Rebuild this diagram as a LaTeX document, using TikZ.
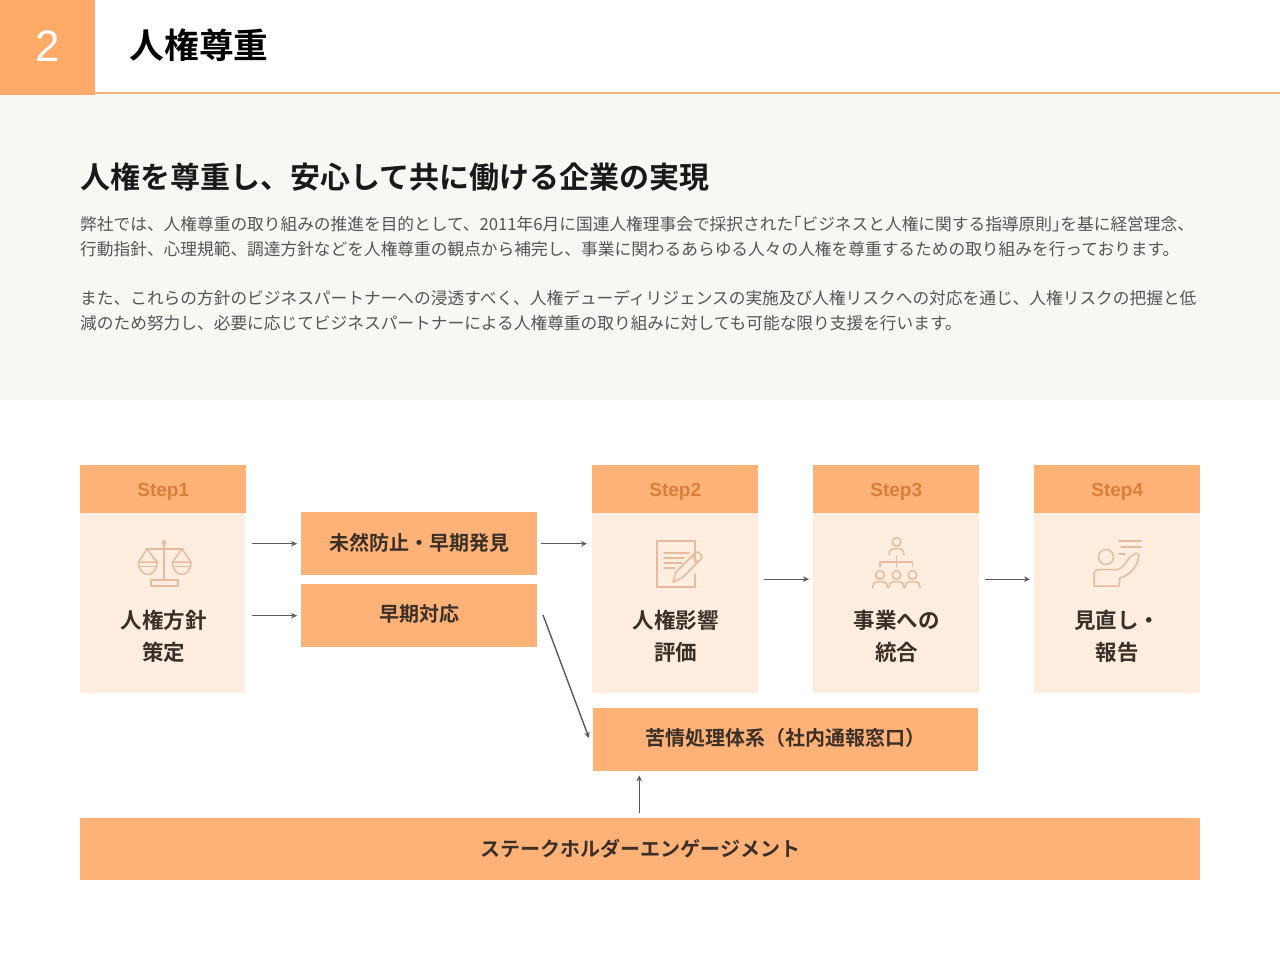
\documentclass[tikz,border=0pt]{standalone}
\usepackage{fontspec}
\setmainfont{Noto Sans CJK JP}[BoldFont={Noto Sans CJK JP Bold}]
\newfontfamily\latinf{Liberation Sans}
\usetikzlibrary{arrows.meta}
\definecolor{hdr}{HTML}{FFB277}
\definecolor{topo}{HTML}{FFAA66}
\definecolor{pale}{HTML}{FFEEDF}
\definecolor{panel}{HTML}{F9F7F4}
\definecolor{ink}{HTML}{3A3028}
\definecolor{bodyt}{HTML}{555555}
\definecolor{stept}{HTML}{D97F3C}
\definecolor{icon}{HTML}{E6BC9C}
\definecolor{arr}{HTML}{5A5A60}
\newcommand{\shiftup}[2]{\raisebox{#1}[\height][\depth]{#2}}
\tikzset{
 fillbox/.style={fill=hdr,draw=none,inner sep=0pt,text=ink,font=\fontsize{20}{24}\selectfont\bfseries,anchor=north west},
 card/.style={draw=none,inner sep=0pt,anchor=north west,minimum width=166pt,minimum height=228pt},
 stephead/.style={fill=hdr,inner sep=0pt,anchor=north west,minimum width=166pt,minimum height=48pt,text=stept,font=\latinf\fontsize{19}{24}\selectfont\bfseries},
 stepbody/.style={fill=pale,inner sep=0pt,anchor=north west,minimum height=180pt},
 steplabel/.style={text=ink,align=center,inner sep=0pt,font=\fontsize{21.5}{32}\selectfont\bfseries},
 bodyline/.style={anchor=base west,inner sep=0pt,text=bodyt,font=\fontsize{16.7}{20}\selectfont},
 flow/.style={draw=arr,line width=1.4pt,-{Stealth[length=6pt,width=5.5pt]}},
 ic/.style={draw=icon,line width=1.5pt,fill=none,line join=round,line cap=round},
}
\begin{document}
\begin{tikzpicture}[x=1pt,y=-1pt]
\useasboundingbox (0,0) rectangle (1280,960);
\fill[white] (0,0) rectangle (1280,960);
% header
\fill[panel] (0,95) rectangle (1280,400);
\draw[draw=hdr,line width=2pt] (95,93) -- (1280,93);
\node[fill=topo,inner sep=0pt,anchor=north west,minimum width=95pt,minimum height=95pt,text=white,font=\latinf\fontsize{44}{48}\selectfont] (num) at (0,0) {\shiftup{1.5pt}{2}};
\node[anchor=west,inner sep=0pt,text=black,font=\fontsize{34.7}{40}\selectfont\bfseries] (ttl) at (129.5,45) {人権尊重};
\node[anchor=west,inner sep=0pt,text=black!90,font=\fontsize{30}{36}\selectfont\bfseries] (sub) at (80,177) {人権を尊重し、安心して共に働ける企業の実現};
\node[bodyline] (l1) at (80,230.5) {弊社では、人権尊重の取り組みの推進を目的として、2011年6月に国連人権理事会で採択された｢ビジネスと人権に関する指導原則｣を基に経営理念、};
\node[bodyline] (l2) at (80,255.5) {行動指針、心理規範、調達方針などを人権尊重の観点から補完し、事業に関わるあらゆる人々の人権を尊重するための取り組みを行っております。};
\node[bodyline] (l3) at (80,305) {また、これらの方針のビジネスパートナーへの浸透すべく、人権デューディリジェンスの実施及び人権リスクへの対応を通じ、人権リスクの把握と低};
\node[bodyline] (l4) at (80,329.5) {減のため努力し、必要に応じてビジネスパートナーによる人権尊重の取り組みに対しても可能な限り支援を行います。};
% cards
\foreach \n/\x/\s/\w in {1/80/Step1/165,2/592/Step2/166,3/813/Step3/166,4/1034/Step4/166}{
  \node[stepbody,minimum width=\w pt] (body\n) at (\x,513) {};
  \node[stephead] (head\n) at (\x,465) {\shiftup{-3pt}{\s}};
  \node[card] (card\n) at (\x,465) {};
}
\node[steplabel] (lab1) at (163.5,636) {人権方針\\策定};
\node[steplabel] (lab2) at (675.5,636) {人権影響\\評価};
\node[steplabel] (lab3) at (896.5,636) {事業への\\統合};
\node[steplabel] (lab4) at (1117,636) {見直し・\\報告};
% middle boxes
\node[fillbox,minimum width=236pt,minimum height=63pt] (mid1) at (301,512) {\shiftup{1pt}{未然防止・早期発見}};
\node[fillbox,minimum width=236pt,minimum height=63pt] (mid2) at (301,584) {\shiftup{1.5pt}{早期対応}};
\node[fillbox,minimum width=385pt,minimum height=63pt] (comp) at (593,708) {\shiftup{1.5pt}{苦情処理体系（社内通報窓口）}};
\node[fillbox,minimum width=1120pt,minimum height=62pt] (stake) at (80,818) {ステークホルダーエンゲージメント};
% connectors
\coordinate (m2s) at (543,615);
\coordinate (m2e) at (589,738);
\draw[flow,shorten <=6pt,shorten >=4pt] (card1.east |- mid1.west) -- (mid1.west);
\draw[flow,shorten <=6pt,shorten >=4pt] (card1.east |- mid2.west) -- (mid2.west);
\draw[flow,shorten <=4pt,shorten >=5pt] (mid1.east) -- (mid1.east -| card2.west);
\draw[flow,shorten <=6pt,shorten >=4pt] (card2.east) -- (card3.west);
\draw[flow,shorten <=6pt,shorten >=4pt] (card3.east) -- (card4.west);
\draw[flow] (m2s) -- (m2e);
\draw[flow,shorten <=5pt,shorten >=4pt] ([xshift=-1pt]stake.north) -- ([xshift=-1pt]stake.north |- comp.south);
% icons
\begin{scope}[ic]
% scales
\draw (164,544.5) -- (164,580);
\draw[fill=icon,draw=none] (164,542.5) circle (2.4);
\draw (146,549) -- (183,549);
\draw (147,549) -- (138.5,562) -- (157,562) -- cycle;
\draw (138.5,562) .. controls (138.5,570) and (143,574.5) .. (147.75,574.5) .. controls (152.5,574.5) and (157,570) .. (157,562);
\draw (139.5,566.5) -- (156,566.5);
\draw (182,549) -- (172.5,562) -- (191,562) -- cycle;
\draw (172.5,562) .. controls (172.5,570) and (177,574.5) .. (181.75,574.5) .. controls (186.5,574.5) and (191,570) .. (191,562);
\draw (173.5,566.5) -- (190,566.5);
\draw (151,580) rectangle (178,586);
% document and pencil
\draw (695,562) -- (695,541) -- (657,541) -- (657,587) -- (695,587) -- (695,574);
\draw (664,553) -- (689,553);
\draw (664,558) -- (684,558);
\draw (664,563) -- (682,563);
\draw (664,568) -- (675,568);
\draw (673,582) -- (676,572) -- (695,553) -- (698,552) -- (702,556) -- (701,559) -- (682,578) -- cycle;
\draw (692,556) -- (698,562);
% organisation
\foreach \cx/\ty in {896.5/542,880/575,896.5/575,912.5/575}{
  \draw (\cx,\ty) circle (4.3);
  \draw (\cx-7.5,\ty+13) .. controls (\cx-7.5,\ty+7) and (\cx-4,\ty+6.5) .. (\cx,\ty+6.5) .. controls (\cx+4,\ty+6.5) and (\cx+7.5,\ty+7) .. (\cx+7.5,\ty+13);
}
\draw (880,567) -- (880,562) -- (912.5,562) -- (912.5,567);
\draw (896.5,556) -- (896.5,567);
% hand
\draw (1106,557) circle (7.5);
\draw (1119,541) -- (1141,541);
\draw (1121,547) -- (1141,547);
\draw (1119,554) -- (1125,554);
\draw (1094,586) -- (1094,574) .. controls (1094,571) and (1096,569.5) .. (1099,569.5) -- (1117,569.5) .. controls (1122,569.5) and (1126,562) .. (1130,557) -- (1136,553) -- (1139,555) .. controls (1138,564) and (1133,572) .. (1125,576) -- (1120,578) -- (1119,586) -- cycle;
\end{scope}
\end{tikzpicture}
\end{document}
